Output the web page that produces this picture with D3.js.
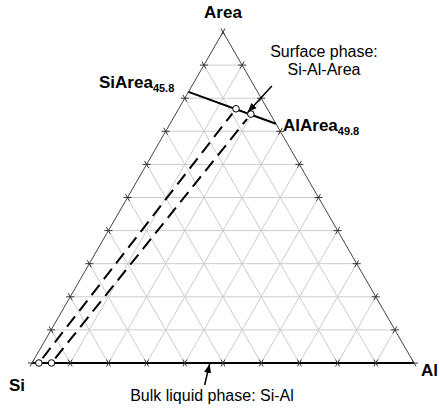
<!DOCTYPE html>
<html>
<head>
<meta charset="utf-8">
<script src="https://cdn.jsdelivr.net/npm/d3@7"></script>
<style>
  html, body { margin: 0; padding: 0; background: #fff; }
  svg { display: block; font-family: "Liberation Sans", Arial, sans-serif; }
</style>
</head>
<body>
<svg id="chart" width="440" height="408"></svg>
<script>
// ---------- data ----------
const vertices = ["Si", "Al", "Area"];           // bottom-left, bottom-right, top
const gridTicks = [0, 10, 20, 30, 40, 50, 60, 70, 80, 90, 100];
// tie line between the two binary compounds (Si, Al, Area in %)
const compoundNames = ["SiArea", "AlArea"];
const compoundSubs = ["45.8", "49.8"];
const tieSi   = [18.1, 0];
const tieAl   = [0, 27.7];
const tieArea = [81.9, 72.3];
// surface phase points (on tie line) and bulk phase points (on Si-Al edge)
const surfSi   = [8.2, 5.1];
const surfAl   = [15.0, 19.7];
const surfArea = [76.8, 75.2];
const bulkSi   = [98.2, 94.9];
const bulkAl   = [1.8, 5.1];
const bulkArea = [0, 0];
const surfLabel = ["Surface phase:", "Si-Al-Area"];
const bulkLabel = "Bulk liquid phase: Si-Al";
const bulkArrowAl = 46.5;   // where bulk-phase arrow touches Si-Al edge

// ---------- scales ----------
const svg = d3.select("#chart");
const xS = d3.scaleLinear().domain([0, 100]).range([32, 414]);
const yS = d3.scaleLinear().domain([0, 100]).range([363, 32]);
const pt = (si, al, area) => [xS(al + area / 2), yS(area)];

// ---------- grid ----------
const gridLines = [];
gridTicks.forEach(k => {
  if (k === 100) return;
  gridLines.push([pt(100 - k, 0, k), pt(0, 100 - k, k)]);   // constant Area
  gridLines.push([pt(100 - k, k, 0), pt(0, k, 100 - k)]);   // constant Al
  gridLines.push([pt(k, 100 - k, 0), pt(k, 0, 100 - k)]);   // constant Si
});
svg.append("g").selectAll("line").data(gridLines.filter((d, i) => i >= 3)).join("line")
  .attr("x1", d => d[0][0]).attr("y1", d => d[0][1])
  .attr("x2", d => d[1][0]).attr("y2", d => d[1][1])
  .attr("stroke", "#cccccc").attr("stroke-width", 1);

// edges
const A = pt(100, 0, 0), B = pt(0, 100, 0), C = pt(0, 0, 100);
const edges = svg.append("g");
edges.append("line").attr("x1", A[0]).attr("y1", A[1]).attr("x2", C[0]).attr("y2", C[1])
  .attr("stroke", "#444").attr("stroke-width", 1);
edges.append("line").attr("x1", B[0]).attr("y1", B[1]).attr("x2", C[0]).attr("y2", C[1])
  .attr("stroke", "#444").attr("stroke-width", 1);
edges.append("line").attr("x1", A[0]).attr("y1", A[1]).attr("x2", B[0]).attr("y2", B[1])
  .attr("stroke", "#000").attr("stroke-width", 2);

// ticks at grid-line ends
const tickLen = 4;
const ticks = [];
gridLines.forEach(([p, q]) => {
  const dx = q[0] - p[0], dy = q[1] - p[1];
  const L = Math.hypot(dx, dy);
  if (L < 1) return;
  const ux = dx / L, uy = dy / L;
  [[p, -1], [q, 1]].forEach(([P, s]) => {
    ticks.push([P[0] - s * ux * tickLen, P[1] - s * uy * tickLen,
                P[0] + s * ux * tickLen, P[1] + s * uy * tickLen]);
  });
});
svg.append("g").selectAll("line").data(ticks).join("line")
  .attr("x1", d => d[0]).attr("y1", d => d[1])
  .attr("x2", d => d[2]).attr("y2", d => d[3])
  .attr("stroke", "#333").attr("stroke-width", 1);

// ---------- dashed lines from bulk to surface ----------
const dashed = svg.append("g");
bulkSi.forEach((s, i) => {
  const p = pt(bulkSi[i], bulkAl[i], bulkArea[i]);
  const q = pt(surfSi[i], surfAl[i], surfArea[i]);
  const dx = q[0] - p[0], dy = q[1] - p[1], L = Math.hypot(dx, dy);
  const ux = dx / L, uy = dy / L;
  dashed.append("line")
    .attr("x1", p[0] + ux * 6).attr("y1", p[1] + uy * 6)
    .attr("x2", q[0] - ux * 6).attr("y2", q[1] - uy * 6)
    .attr("stroke", "#000").attr("stroke-width", 2)
    .attr("stroke-dasharray", "13,7");
});

// ---------- tie line ----------
const t0 = pt(tieSi[0], tieAl[0], tieArea[0]);
const t1 = pt(tieSi[1], tieAl[1], tieArea[1]);
svg.append("line").attr("x1", t0[0]).attr("y1", t0[1]).attr("x2", t1[0]).attr("y2", t1[1])
  .attr("stroke", "#000").attr("stroke-width", 2);

// ---------- circles ----------
const circ = [];
surfSi.forEach((d, i) => circ.push(pt(surfSi[i], surfAl[i], surfArea[i])));
bulkSi.forEach((d, i) => circ.push(pt(bulkSi[i], bulkAl[i], bulkArea[i])));
svg.append("g").selectAll("circle").data(circ).join("circle")
  .attr("cx", d => d[0]).attr("cy", d => d[1]).attr("r", 3.3)
  .attr("fill", "#fff").attr("stroke", "#000").attr("stroke-width", 1);

// ---------- arrows ----------
const defs = svg.append("defs");
defs.append("marker").attr("id", "arr").attr("viewBox", "0 0 10 10")
  .attr("refX", 10).attr("refY", 5).attr("markerWidth", 9).attr("markerHeight", 9)
  .attr("markerUnits", "userSpaceOnUse").attr("orient", "auto")
  .append("path").attr("d", "M0,1 L10,5 L0,9 Z").attr("fill", "#000");

const sp = pt(surfSi[1], surfAl[1], surfArea[1]);
svg.append("line").attr("x1", sp[0] + 21).attr("y1", sp[1] - 28)
  .attr("x2", sp[0] - 3).attr("y2", sp[1] - 2)
  .attr("stroke", "#000").attr("stroke-width", 1.5).attr("marker-end", "url(#arr)");

const bp = pt(100 - bulkArrowAl, bulkArrowAl, 0);
svg.append("line").attr("x1", bp[0] - 5).attr("y1", bp[1] + 22)
  .attr("x2", bp[0]).attr("y2", bp[1] + 1)
  .attr("stroke", "#000").attr("stroke-width", 1.5).attr("marker-end", "url(#arr)");

// ---------- labels ----------
svg.append("text").attr("x", C[0]).attr("y", 18).attr("text-anchor", "middle")
  .attr("font-weight", "bold").attr("font-size", 17).text(vertices[2]);
svg.append("text").attr("x", 9).attr("y", 391)
  .attr("font-weight", "bold").attr("font-size", 17).text(vertices[0]);
svg.append("text").attr("x", 421).attr("y", 376)
  .attr("font-weight", "bold").attr("font-size", 17).text(vertices[1]);

const cl0 = svg.append("text").attr("x", 99).attr("y", 88)
  .attr("font-weight", "bold").attr("font-size", 17);
cl0.append("tspan").text(compoundNames[0]);
cl0.append("tspan").attr("font-size", 11).attr("dy", 4).text(compoundSubs[0]);

const cl1 = svg.append("text").attr("x", 283).attr("y", 131)
  .attr("font-weight", "bold").attr("font-size", 17);
cl1.append("tspan").text(compoundNames[1]);
cl1.append("tspan").attr("font-size", 11).attr("dy", 4).text(compoundSubs[1]);

svg.append("text").attr("x", 324).attr("y", 57).attr("text-anchor", "middle")
  .attr("font-size", 16).text(surfLabel[0]);
svg.append("text").attr("x", 324).attr("y", 75).attr("text-anchor", "middle")
  .attr("font-size", 16).text(surfLabel[1]);
svg.append("text").attr("x", 212).attr("y", 401).attr("text-anchor", "middle")
  .attr("font-size", 16).text(bulkLabel);
</script>
</body>
</html>
